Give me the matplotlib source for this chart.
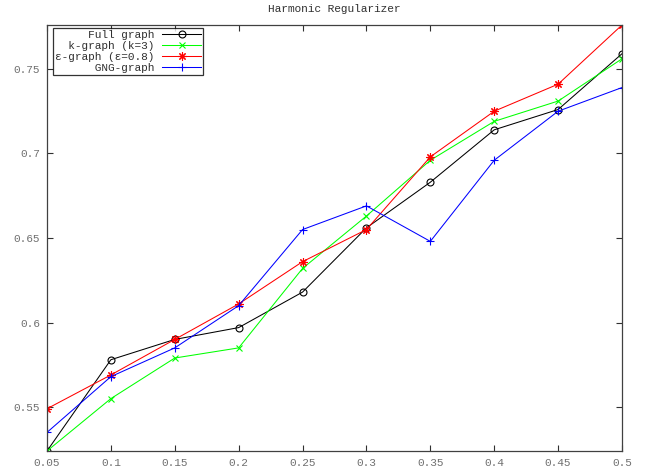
import matplotlib
matplotlib.use("Agg")
import matplotlib.pyplot as plt

plt.rcParams['font.family'] = ['Liberation Mono', 'DejaVu Sans Mono']

# sampling ratio on the x axis
x = [0.05, 0.1, 0.15, 0.2, 0.25, 0.3, 0.35, 0.4, 0.45, 0.5]

full_graph = [0.524, 0.578, 0.590, 0.597, 0.618, 0.656, 0.683, 0.714, 0.726, 0.759]
k_graph = [0.524, 0.555, 0.579, 0.585, 0.632, 0.663, 0.696, 0.719, 0.731, 0.756]
eps_graph = [0.549, 0.569, 0.590, 0.611, 0.636, 0.655, 0.698, 0.725, 0.741, 0.776]
gng_graph = [0.535, 0.568, 0.585, 0.610, 0.655, 0.669, 0.648, 0.696, 0.725, 0.739]

labels = ["Full graph", "k-graph (k=3)", "\u03b5-graph (\u03b5=0.8)", "GNG-graph"]
xticks = [0.05, 0.1, 0.15, 0.2, 0.25, 0.3, 0.35, 0.4, 0.45, 0.5]
yticks = [0.55, 0.6, 0.65, 0.7, 0.75]

fig = plt.figure(figsize=(6.53, 4.73), dpi=100)
ax = fig.add_axes([47 / 653, 1 - 451 / 473, 575 / 653, 426 / 473])

# monospace font: pad with spaces so the labels line up on the right
w = max(len(l) for l in labels)
pad = [" " * (w - len(l)) + l for l in labels]

ax.plot(x, full_graph, color='black', lw=0.75, marker='o', ms=5, mfc='none', mew=0.8, label=pad[0])
ax.plot(x, k_graph, color='#00ff00', lw=0.75, marker='x', ms=5, mew=0.8, label=pad[1])
ax.plot(x, eps_graph, color='red', lw=0.75, marker=(8, 2, 0), ms=6, mew=0.8, label=pad[2])
ax.plot(x, gng_graph, color='blue', lw=0.75, marker='+', ms=6, mew=0.8, label=pad[3])

ax.set_xlim(0.05, 0.5)
ax.set_ylim(min(full_graph + k_graph), max(eps_graph))
ax.set_xticks(xticks)
ax.set_xticklabels([f"{v:g}" for v in xticks])
ax.set_yticks(yticks)
ax.set_yticklabels([f"{v:g}" for v in yticks])

ax.tick_params(direction='in', length=4, width=0.8, top=True, right=True,
               labelsize=8, labelcolor='#707070', colors='#303030', pad=5)
for s in ax.spines.values():
    s.set_color('#404040')
    s.set_linewidth(0.9)

ax.set_title("Harmonic Regularizer", fontsize=8, color='#303030', pad=9)

leg = ax.legend(loc='upper left', bbox_to_anchor=(0.011, 0.993), markerfirst=False,
                fontsize=8, frameon=True, fancybox=False, edgecolor='black',
                handlelength=3.5, handletextpad=0.7, borderpad=0.15,
                labelspacing=0.1, borderaxespad=0.0)
leg.get_frame().set_linewidth(0.9)
for t in leg.get_texts():
    t.set_color('#303030')

fig.savefig('out.png', dpi=100)
